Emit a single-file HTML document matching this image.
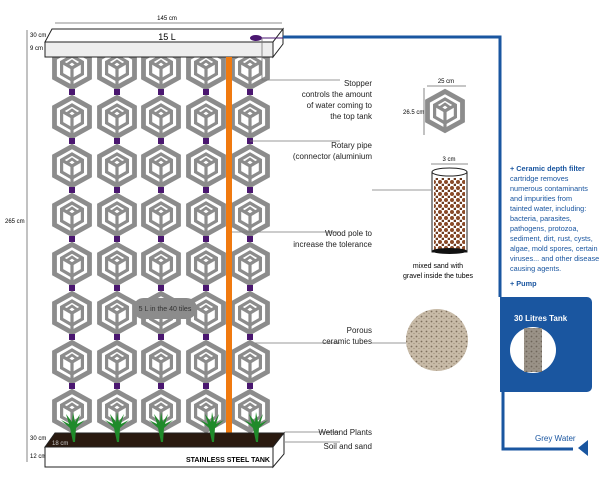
<!DOCTYPE html><html><head><style>body{margin:0;background:#fff}svg{display:block}text{font-family:"Liberation Sans",sans-serif}</style></head><body>
<svg width="600" height="482" viewBox="0 0 600 482" xmlns="http://www.w3.org/2000/svg">
<defs>
<g id="t" fill="none" stroke="#8c8c8c">
<polygon points="0,-19.5 17.5,-9.8 17.5,9.8 0,19.5 -17.5,9.8 -17.5,-9.8" stroke-width="4.8"/>
<polygon points="0,-12 10.4,-6 10.4,6 0,12 -10.4,6 -10.4,-6" stroke-width="3.2"/>
<polygon points="0,-7 5,-3.5 0,0 -5,-3.5" stroke-width="2.6"/>
<polyline points="-10.4,-6 0,0 10.4,-6" stroke-width="3.2"/><line x1="0" y1="0" x2="0" y2="19" stroke-width="3.2"/>
</g>
<rect id="c" x="-3" y="0" width="6" height="6" fill="#4a1670"/>
<g id="col"><use href="#t" y="68"/><use href="#c" y="89"/><use href="#t" y="117"/><use href="#c" y="138"/><use href="#t" y="166"/><use href="#c" y="187"/><use href="#t" y="215"/><use href="#c" y="236"/><use href="#t" y="264"/><use href="#c" y="285"/><use href="#t" y="313"/><use href="#c" y="334"/><use href="#t" y="362"/><use href="#c" y="383"/><use href="#t" y="411"/></g>
<g id="p" fill="#1f8a2a"><path d="M0,22 L-3,8 L-12,0 L-4,4 L-7,-6 L-1,2 L0,-8 L2,2 L7,-6 L4,4 L12,0 L3,8 L2,22Z"/></g>
<pattern id="sand" width="6" height="6" patternUnits="userSpaceOnUse"><rect width="6" height="6" fill="#fff"/><circle cx="2" cy="2" r="2" fill="#8a4a28"/><circle cx="5" cy="5" r="1.4" fill="#6b3a1f"/></pattern>
<pattern id="cer" width="5" height="5" patternUnits="userSpaceOnUse"><rect width="5" height="5" fill="#c8bba8"/><circle cx="1.5" cy="1.5" r="0.9" fill="#7d6e5c"/><circle cx="4" cy="3.5" r="0.6" fill="#9a8b76"/></pattern>
</defs>
<use href="#col" x="72"/><use href="#col" x="117"/><use href="#col" x="161"/><use href="#col" x="206"/><use href="#col" x="250"/>
<rect x="133" y="298" width="64" height="21" rx="10.5" fill="#8c8c8c"/><text x="165" y="311" font-size="7" text-anchor="middle" fill="#333">5 L in the 40 tiles</text>
<polygon points="45,42 52,29 283,29 273,42" fill="#fff" stroke="#222" stroke-width="1"/>
<rect x="45" y="42" width="228" height="15" fill="#eeeeee" stroke="#222"/>
<polygon points="273,42 283,29 283,44 273,57" fill="#fff" stroke="#222"/>
<text x="167" y="40" font-size="9" text-anchor="middle">15 L</text>
<line x1="55" y1="23" x2="282" y2="23" stroke="#666" stroke-width="0.8"/><text x="167" y="20" font-size="6" text-anchor="middle">145 cm</text>
<line x1="27" y1="30" x2="27" y2="462" stroke="#666" stroke-width="0.8"/>
<text x="30" y="37" font-size="6">30 cm</text><text x="30" y="50" font-size="6">9 cm</text><text x="5" y="223" font-size="6">265 cm</text>
<text x="30" y="440" font-size="6">30 cm</text><text x="30" y="458" font-size="6">12 cm</text>
<polyline points="283,37 500,37 500,297" fill="none" stroke="#1a56a0" stroke-width="3"/>
<polyline points="503,392 503,449 573,449" fill="none" stroke="#1a56a0" stroke-width="3"/>
<polygon points="588,440 588,456 578,448" fill="#1a56a0"/>
<path d="M500,297 H587 a5,5 0 0 1 5,5 V387 a5,5 0 0 1 -5,5 H500Z" fill="#1a56a0"/>
<text x="514" y="321" font-size="8" font-weight="bold" fill="#fff">30 Litres Tank</text>
<circle cx="533" cy="350" r="23" fill="#fff"/><rect x="524" y="328" width="18" height="44" fill="#555"/><rect x="524" y="328" width="18" height="44" fill="url(#cer)" opacity="0.6"/>
<text x="535" y="441" font-size="8" fill="#1a56a0">Grey Water</text>
<ellipse cx="256" cy="38" rx="6" ry="3" fill="#4a1670"/><line x1="256" y1="38" x2="283" y2="38" stroke="#4a1670"/>
<g stroke="#777" stroke-width="0.8" fill="none">
<polyline points="262,38 262,80 340,80"/><line x1="250" y1="141" x2="340" y2="141"/><line x1="231" y1="232" x2="340" y2="232"/><line x1="255" y1="343" x2="340" y2="343"/><line x1="285" y1="432" x2="340" y2="432"/><line x1="285" y1="442" x2="340" y2="442"/><line x1="372" y1="190" x2="431" y2="190"/><line x1="372" y1="343" x2="406" y2="343"/>
</g>
<rect x="226" y="57" width="6" height="390" fill="#f07a10"/>
<polygon points="45,447 55,433 284,433 273,447" fill="#2a1a10" stroke="#222"/>
<use href="#p" x="73" y="420"/><use href="#p" x="117" y="420"/><use href="#p" x="161" y="420"/><use href="#p" x="212" y="420"/><use href="#p" x="256" y="420"/>
<text x="52" y="445" font-size="6" fill="#ccc">18 cm</text>
<rect x="45" y="447" width="228" height="20" fill="#fff" stroke="#222"/>
<polygon points="273,447 284,433 284,454 273,467" fill="#fff" stroke="#222"/>
<text x="270" y="462" font-size="7" font-weight="bold" text-anchor="end">STAINLESS STEEL TANK</text>
<g font-size="8" text-anchor="end" fill="#222">
<text x="372" y="86">Stopper</text><text x="372" y="97">controls the amount</text><text x="372" y="108">of water coming to</text><text x="372" y="119">the top tank</text>
<text x="372" y="148">Rotary pipe</text><text x="372" y="159">(connector (aluminium</text>
<text x="372" y="236">Wood pole to</text><text x="372" y="247">increase the tolerance</text>
<text x="372" y="333">Porous</text><text x="372" y="344">ceramic tubes</text>
<text x="372" y="435">Wetland Plants</text><text x="372" y="449">Soil and sand</text>
</g>
<use href="#t" x="445" y="111"/>
<line x1="427" y1="86" x2="466" y2="86" stroke="#666" stroke-width="0.8"/><text x="446" y="83" font-size="6" text-anchor="middle">25 cm</text>
<line x1="424" y1="88" x2="424" y2="135" stroke="#666" stroke-width="0.8"/><text x="403" y="114" font-size="6">26.5 cm</text>
<line x1="431" y1="164" x2="468" y2="164" stroke="#666" stroke-width="0.8"/><text x="449" y="161" font-size="6" text-anchor="middle">3 cm</text>
<rect x="434" y="178" width="31" height="72" fill="url(#sand)"/>
<rect x="432" y="172" width="35" height="80" fill="none" stroke="#222"/>
<ellipse cx="449.5" cy="172" rx="17.5" ry="4" fill="#fff" stroke="#222"/><ellipse cx="449.5" cy="251" rx="17.5" ry="3" fill="#111"/>
<text x="438" y="268" font-size="7" text-anchor="middle">mixed sand with</text><text x="438" y="278" font-size="7" text-anchor="middle">gravel inside the tubes</text>
<circle cx="437" cy="340" r="31" fill="url(#cer)"/>
<g font-size="7.3" fill="#1a56a0">
<text x="510" y="171" font-weight="bold">+ Ceramic depth filter</text>
<text x="510" y="181">cartridge removes</text><text x="510" y="191">numerous contaminants</text><text x="510" y="201">and impurities from</text><text x="510" y="211">tainted water, including:</text><text x="510" y="221">bacteria, parasites,</text><text x="510" y="231">pathogens, protozoa,</text><text x="510" y="241">sediment, dirt, rust, cysts,</text><text x="510" y="251">algae, mold spores, certain</text><text x="510" y="261">viruses... and other disease</text><text x="510" y="271">causing agents.</text>
<text x="510" y="286" font-weight="bold">+ Pump</text>
</g>
</svg>
</body></html>
